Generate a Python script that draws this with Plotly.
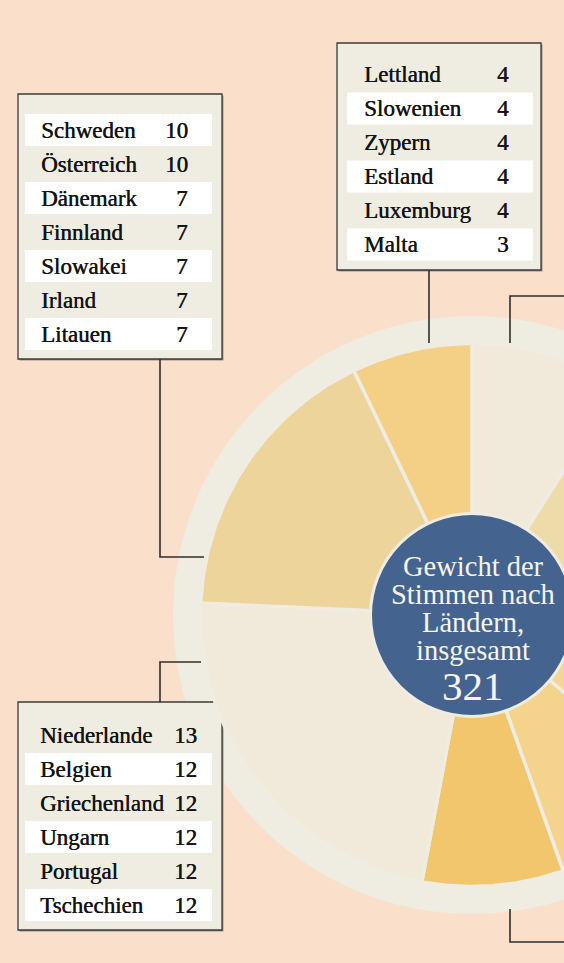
import numpy as np
import plotly.graph_objects as go

# ---------------- data ----------------
grosse_laender = ["Deutschland", "Frankreich", "Großbritannien", "Italien", "Spanien", "Polen"]
grosse_stimmen = [29, 29, 29, 29, 27, 27]

gruppe_a_laender = ["Lettland", "Slowenien", "Zypern", "Estland", "Luxemburg", "Malta"]
gruppe_a_stimmen = [4, 4, 4, 4, 4, 3]

gruppe_b_laender = ["Schweden", "Österreich", "Dänemark", "Finnland", "Slowakei", "Irland", "Litauen"]
gruppe_b_stimmen = [10, 10, 7, 7, 7, 7, 7]

gruppe_c_laender = ["Niederlande", "Belgien", "Griechenland", "Ungarn", "Portugal", "Tschechien"]
gruppe_c_stimmen = [13, 12, 12, 12, 12, 12]

titel_zeilen = ["Gewicht der", "Stimmen nach", "Ländern,", "insgesamt"]

# slices clockwise from 12 o'clock
segment_namen = grosse_laender + ["Gruppe C", "Gruppe B", "Gruppe A"]
segment_werte = grosse_stimmen + [sum(gruppe_c_stimmen), sum(gruppe_b_stimmen), sum(gruppe_a_stimmen)]
gesamt = sum(segment_werte)

# ---------------- style ----------------
BG = "#FADFCA"
RING = "#EFECE1"
BLUE = "#44648F"
TEXT = "#141414"
FONT = "Liberation Serif"
segment_farben = ["#F1E9DA", "#EEDBAA", "#F0E0B8", "#F2D597", "#F4D38D", "#F1C66C",
                  "#F1E9DA", "#ECD49A", "#F4D086"]

CX, CY = 472, 615
R_RING = 299
R_PIE = 271.5
R_HUB = 101.5

W, H = 564, 963

fig = go.Figure()

# pie slices computed from the vote counts
cum = np.concatenate([[0], np.cumsum(segment_werte)])
for i, (name, val) in enumerate(zip(segment_namen, segment_werte)):
    a0 = cum[i] / gesamt * 2 * np.pi
    a1 = cum[i + 1] / gesamt * 2 * np.pi
    t = np.linspace(a0, a1, 80)
    xs = np.concatenate([[CX], CX + R_PIE * np.sin(t), [CX]])
    ys = np.concatenate([[CY], CY - R_PIE * np.cos(t), [CY]])
    fig.add_trace(go.Scatter(
        x=xs, y=ys, mode="lines", fill="toself",
        fillcolor=segment_farben[i],
        line=dict(color=RING, width=3.5),
        name=f"{name} ({val})", hoverinfo="name", showlegend=False,
    ))

shapes = []
annotations = []

# outer ring
shapes.append(dict(type="circle", xref="x", yref="y",
                   x0=CX - R_RING, x1=CX + R_RING, y0=CY - R_RING, y1=CY + R_RING,
                   fillcolor=RING, line=dict(width=0), layer="below"))

# tables
PITCH = 34
BAND = 32
boxes = [
    dict(laender=gruppe_b_laender, stimmen=gruppe_b_stimmen, x0=18, x1=222, y0=94, y1=359,
         row0=130, bx0=25, bx1=212, name_x=39, num_x=190),
    dict(laender=gruppe_a_laender, stimmen=gruppe_a_stimmen, x0=337, x1=541, y0=43, y1=270,
         row0=74.5, bx0=347, bx1=533, name_x=362, num_x=511),
    dict(laender=gruppe_c_laender, stimmen=gruppe_c_stimmen, x0=18, x1=222, y0=702, y1=930,
         row0=735, bx0=25, bx1=212, name_x=38, num_x=199),
]
tfont = dict(family=FONT, size=23, color=TEXT, shadow="0.45px 0 0 #141414")
for b in boxes:
    # soft shadow
    shapes.append(dict(type="rect", xref="x", yref="y",
                       x0=b["x0"] + 1.5, x1=b["x1"] + 1.5, y0=b["y0"] + 1.5, y1=b["y1"] + 1.5,
                       fillcolor="#9a9288", line=dict(width=0), layer="below"))
    shapes.append(dict(type="rect", xref="x", yref="y",
                       x0=b["x0"], x1=b["x1"], y0=b["y0"], y1=b["y1"],
                       fillcolor=RING, line=dict(color="#3a3a3a", width=1.3), layer="below"))
    n = len(b["laender"])
    for i, (land, st) in enumerate(zip(b["laender"], b["stimmen"])):
        yc = b["row0"] + i * PITCH
        if (n - 1 - i) % 2 == 0:
            shapes.append(dict(type="rect", xref="x", yref="y",
                               x0=b["bx0"], x1=b["bx1"], y0=yc - BAND / 2, y1=yc + BAND / 2,
                               fillcolor="white", line=dict(width=0), layer="below"))
        annotations.append(dict(x=b["name_x"], y=yc, xref="x", yref="y", text=land,
                                xanchor="left", yanchor="middle", showarrow=False,
                                font=tfont))
        annotations.append(dict(x=b["num_x"], y=yc, xref="x", yref="y", text=str(st),
                                xanchor="right", yanchor="middle", showarrow=False,
                                font=tfont))

# connector lines
connectors = [
    "M 160 359 L 160 557 L 204 557",
    "M 429 270 L 429 343",
    "M 510 343 L 510 296 L 570 296",
    "M 160 702 L 160 662 L 201 662",
    "M 510 909 L 510 942 L 570 942",
]
for p in connectors:
    shapes.append(dict(type="path", xref="x", yref="y", path=p,
                       line=dict(color="#2e2e2e", width=1.6), layer="above"))

# central hub
shapes.append(dict(type="circle", xref="x", yref="y",
                   x0=CX - R_HUB, x1=CX + R_HUB, y0=CY - R_HUB, y1=CY + R_HUB,
                   fillcolor=BLUE, line=dict(color=RING, width=3), layer="above"))

zeilen_y = [566, 594, 622, 650]
for txt, yy in zip(titel_zeilen, zeilen_y):
    annotations.append(dict(x=CX + 1, y=yy, xref="x", yref="y", text=txt,
                            xanchor="center", yanchor="middle", showarrow=False,
                            font=dict(family=FONT, size=28.5, color="#F7F4EC")))
annotations.append(dict(x=CX + 1, y=686, xref="x", yref="y", text=str(gesamt),
                        xanchor="center", yanchor="middle", showarrow=False,
                        font=dict(family=FONT, size=41, color="#F7F4EC")))

fig.update_layout(
    width=W, height=H, autosize=False,
    margin=dict(l=0, r=0, t=0, b=0, pad=0),
    paper_bgcolor=BG, plot_bgcolor=BG,
    xaxis=dict(range=[0, W], visible=False, fixedrange=True),
    yaxis=dict(range=[H, 0], visible=False, fixedrange=True),
    shapes=shapes, annotations=annotations,
    showlegend=False,
)

fig.write_html("out.html", config={"displayModeBar": False})
